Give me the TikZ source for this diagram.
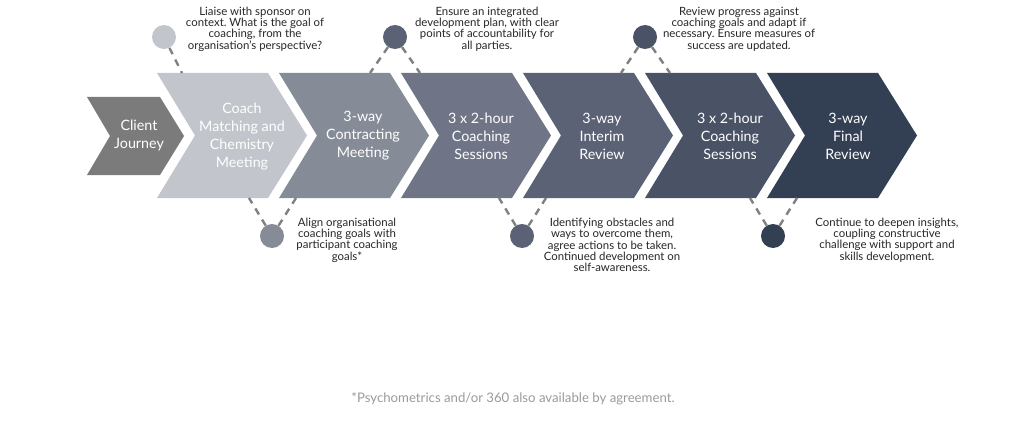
\documentclass[tikz,border=0pt]{standalone}
\usepackage{fontspec}
\setmainfont{Lato}
\frenchspacing
\definecolor{cjc}{HTML}{7B7B7B}
\definecolor{cA}{HTML}{C2C5CC}
\definecolor{cB}{HTML}{868B98}
\definecolor{cC}{HTML}{6F7586}
\definecolor{cD}{HTML}{5B6275}
\definecolor{cE}{HTML}{4A5366}
\definecolor{cF}{HTML}{333F53}
\definecolor{dashgray}{HTML}{808080}
\definecolor{txt}{HTML}{262626}
\definecolor{foot}{HTML}{9A9A9A}
\begin{document}
\begin{tikzpicture}[x=1pt,y=-1pt,
  chevtext/.style={text=white,align=center,font=\fontsize{14.3}{18}\selectfont},
  note/.style={text=txt,align=center,font=\fontsize{11.4}{11.3}\selectfont},
  dot/.style={circle,minimum size=24pt,inner sep=0pt},
  link/.style={draw=dashgray,line width=2.4pt,dash pattern=on 7pt off 6pt}]
\useasboundingbox (0,0) rectangle (1035,433);
% small chevron
\fill[cjc] (87,97) -- (160,97) -- (184,136) -- (160,175) -- (87,175) -- (110,136) -- cycle;
% large chevrons
\foreach \x/\c in {157/cA,279/cB,401/cC,523/cD,645/cE,767/cF}{
  \fill[\c] (\x,73) -- ++(111,0) -- ++(39,62.5) -- ++(-39,62.5) -- ++(-111,0) -- ++(38,-62.5) -- cycle;
}
% labels
\node[chevtext] (cj) at (139,135) {Client\\Journey};
\node[chevtext] (s1) at (242,137) {Coach\\Matching and\\Chemistry\\Meeting};
\node[chevtext] (s2) at (363,136) {3-way\\Contracting\\Meeting};
\node[chevtext] (s3) at (481,136) {3 x 2-hour\\Coaching\\Sessions};
\node[chevtext] (s4) at (602,136) {3-way\\Interim\\Review};
\node[chevtext] (s5) at (730,136) {3 x 2-hour\\Coaching\\Sessions};
\node[chevtext] (s6) at (848,136) {3-way\\Final\\Review};
% connector end points on chevron edges
\coordinate (e1) at (182,73);
\coordinate (e2l) at (370,73);
\coordinate (e2r) at (420,73);
\coordinate (e3l) at (621,73);
\coordinate (e3r) at (670,73);
\coordinate (f1l) at (249,198);
\coordinate (f1r) at (296,198);
\coordinate (f2l) at (499,198);
\coordinate (f2r) at (546,198);
\coordinate (f3l) at (750,198);
\coordinate (f3r) at (797,198);
% dots
\node[dot,fill=cA] (d1) at (164,37) {};
\node[dot,fill=cD] (d2) at (395,37) {};
\node[dot,fill=cE] (d3) at (645,37) {};
\node[dot,fill=cB] (b1) at (272,236) {};
\node[dot,fill=cD] (b2) at (522,236) {};
\node[dot,fill=cF] (b3) at (773,236) {};
% connectors
\draw[link] (d1) -- (e1);
\draw[link] (d2) -- (e2l);
\draw[link] (d2) -- (e2r);
\draw[link] (d3) -- (e3l);
\draw[link] (d3) -- (e3r);
\draw[link] (b1) -- (f1l);
\draw[link] (b1) -- (f1r);
\draw[link] (b2) -- (f2l);
\draw[link] (b2) -- (f2r);
\draw[link] (b3) -- (f3l);
\draw[link] (b3) -- (f3r);
% notes
\node[note] (n1) at (255,29) {Liaise with sponsor on\\context. What is the goal of\\coaching, from the\\organisation's perspective?};
\node[note] (n2) at (487,29) {Ensure an integrated\\development plan, with clear\\points of accountability for\\all parties.};
\node[note] (n3) at (739,29) {Review progress against\\coaching goals and adapt if\\necessary. Ensure measures of\\success are updated.};
\node[note] (m1) at (347,240) {Align organisational\\coaching goals with\\participant coaching\\goals*};
\node[note] (m2) at (612,245) {Identifying obstacles and\\ways to overcome them,\\agree actions to be taken.\\Continued development on\\self-awareness.};
\node[note] (m3) at (887,240) {Continue to deepen insights,\\coupling constructive\\challenge with support and\\skills development.};
\node[text=foot,font=\fontsize{13.2}{15}\selectfont] (fn) at (513,399) {*Psychometrics and/or 360 also available by agreement.};
\end{tikzpicture}
\end{document}
